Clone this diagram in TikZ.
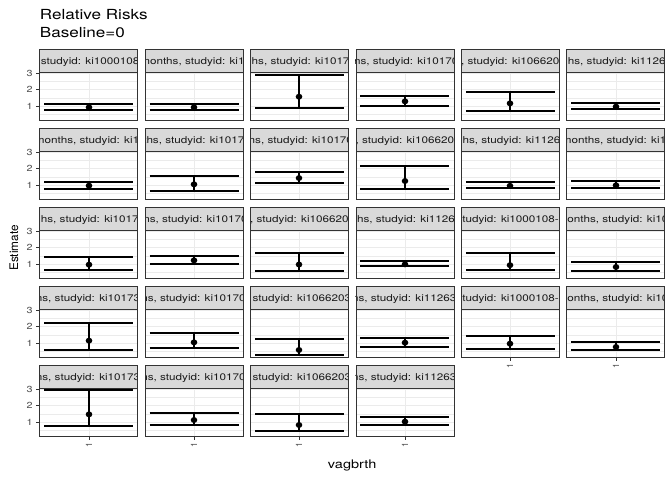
\documentclass[tikz,border=0pt]{standalone}
\usepackage{fontspec}
\setmainfont{TeX Gyre Heros}[FakeStretch=1.23]
\newfontfamily\plainfont{TeX Gyre Heros}
\definecolor{grey10}{HTML}{1A1A1A}
\definecolor{grey20}{HTML}{333333}
\definecolor{grey30}{HTML}{4D4D4D}
\definecolor{grey85}{HTML}{D9D9D9}
\definecolor{grey92}{HTML}{EBEBEB}
\tikzset{
  striptext/.style={font=\fontsize{9.5}{11}\selectfont, text=grey10, inner sep=0pt},
  axtext/.style={font=\fontsize{8.8}{10}\selectfont, text=grey30, inner sep=0pt},
  titletext/.style={font=\fontsize{13.9}{16}\selectfont, text=black, inner sep=0pt},
  frame/.style={draw=grey20, line width=0.8pt},
  majorgrid/.style={draw=grey92, line width=0.9pt},
  minorgrid/.style={draw=grey92, line width=0.45pt},
  errbar/.style={draw=black, line width=1.4pt},
  tickmark/.style={draw=grey20, line width=0.8pt}
}
\begin{document}
\begin{tikzpicture}[x=1pt,y=-1pt]
\useasboundingbox (0,0) rectangle (672,480);
\fill[white] (0,0) rectangle (672,480);
\node[titletext, anchor=base west] (title1) at (39.7,19.3) {Relative Risks};
\node[titletext, anchor=base west] (title2) at (39.7,37.3) {Baseline=0};
\foreach \c/\r/\lo/\es/\hi/\lab/\off in {
 0/0/0.76/0.94/1.12/{studyid: ki1000108}/1,
 1/0/0.76/0.94/1.16/{months, studyid: ki1}/-5,
 2/0/0.88/1.58/2.90/{hs, studyid: ki1017}/1,
 3/0/1.04/1.30/1.62/{ns, studyid: ki10170}/-2,
 4/0/0.74/1.18/1.86/{, studyid: ki1066203}/-0.5,
 5/0/0.84/0.98/1.22/{hs, studyid: ki11263}/1,
 0/1/0.76/0.98/1.22/{months, studyid: ki1}/-5,
 1/1/0.68/1.06/1.58/{ths, studyid: ki1017}/-2,
 2/1/1.14/1.44/1.80/{ns, studyid: ki10170}/-2,
 3/1/0.78/1.26/2.16/{, studyid: ki1066203}/-0.5,
 4/1/0.84/0.97/1.20/{hs, studyid: ki11263}/1,
 5/1/0.84/1.00/1.26/{months, studyid: ki1}/-5,
 0/2/0.66/0.98/1.46/{hs, studyid: ki10170}/1,
 1/2/1.00/1.24/1.50/{ns, studyid: ki10170}/-2,
 2/2/0.60/0.99/1.68/{, studyid: ki1066203}/-0.5,
 3/2/0.90/1.00/1.20/{hs, studyid: ki11263}/1,
 4/2/0.66/0.95/1.68/{studyid: ki1000108-}/-5,
 5/2/0.60/0.84/1.14/{onths, studyid: ki10}/0.5,
 0/3/0.60/1.16/2.21/{ns, studyid: ki10173}/-4,
 1/3/0.72/1.06/1.60/{ns, studyid: ki10170}/-4,
 2/3/0.30/0.60/1.26/{studyid: ki1066203}/2,
 3/3/0.80/1.04/1.30/{ns, studyid: ki11263}/-4,
 4/3/0.66/0.98/1.44/{studyid: ki1000108-}/-5,
 5/3/0.60/0.78/1.08/{onths, studyid: ki10}/0.5,
 0/4/0.76/1.48/2.93/{ns, studyid: ki10173}/-4,
 1/4/0.86/1.14/1.54/{ns, studyid: ki10170}/-4,
 2/4/0.48/0.84/1.50/{studyid: ki1066203}/2,
 3/4/0.82/1.04/1.32/{ns, studyid: ki11263}/-4}{
  \pgfmathsetmacro\L{39.7+105.4*\c}
  \pgfmathsetmacro\R{\L+98}
  \pgfmathsetmacro\M{round(\L+49)}
  \pgfmathsetmacro\T{49.3+79*\r}
  \pgfmathsetmacro\S{\T+23.5}
  \pgfmathsetmacro\B{\T+71.5}
  \pgfmathsetmacro\ylo{round(\S+(3.02-\lo)*16.6)}
  \pgfmathsetmacro\yes{\S+(3.02-\es)*16.6}
  \pgfmathsetmacro\yhi{round(\S+(3.02-\hi)*16.6)}
  \fill[grey85] (\L,\T) rectangle (\R,\S);
  \begin{scope}
    \clip (\L,\T) rectangle (\R,\S);
    \node[striptext, anchor=base west] (lab-\r-\c) at ({\L+\off},{\T+15.4}) {\lab};
  \end{scope}
  \draw[frame] (\L,\T) rectangle (\R,\S);
  \fill[white] (\L,\S) rectangle (\R,\B);
  \begin{scope}
    \clip (\L,\S) rectangle (\R,\B);
    \foreach \v in {0.5,1.5,2.5}{
      \draw[minorgrid] (\L,{\S+(3.02-\v)*16.6}) -- (\R,{\S+(3.02-\v)*16.6});
    }
    \foreach \v in {1,2,3}{
      \draw[majorgrid] (\L,{\S+(3.02-\v)*16.6}) -- (\R,{\S+(3.02-\v)*16.6});
    }
    \draw[majorgrid] (\M,\S) -- (\M,\B);
    \draw[errbar] ({\L+4.5},\yhi) -- ({\R-4.5},\yhi);
    \draw[errbar] ({\L+4.5},\ylo) -- ({\R-4.5},\ylo);
    \draw[errbar] (\M,\yhi) -- (\M,\ylo);
    \fill[black] (\M,\yes) ellipse [x radius=3.3pt, y radius=3pt];
  \end{scope}
  \draw[frame] (\L,\S) rectangle (\R,\B);
}
% y axes
\foreach \r in {0,...,4}{
  \pgfmathsetmacro\S{49.3+79*\r+23.5}
  \foreach \v in {1,2,3}{
    \draw[tickmark] (36,{\S+(3.02-\v)*16.6}) -- (39.7,{\S+(3.02-\v)*16.6});
    \node[axtext, anchor=east] (yl-\r-\v) at (32.8,{\S+(3.02-\v)*16.6}) {\v};
  }
}
% x axes
\foreach \c/\r in {0/4,1/4,2/4,3/4,4/3,5/3}{
  \pgfmathsetmacro\M{round(39.7+105.4*\c+49)}
  \pgfmathsetmacro\B{49.3+79*\r+71.5}
  \draw[tickmark] (\M,\B) -- (\M,{\B+3.2});
  \node[axtext, font=\plainfont\fontsize{8.8}{10}\selectfont, rotate=90, anchor=east] (xl-\c-\r) at (\M,{\B+5.8}) {1};
}
\node[font=\plainfont\fontsize{11.8}{14}\selectfont, rotate=90, anchor=south, inner sep=0pt] (ytitle) at (18.5,248) {Estimate};
\node[font=\fontsize{11.8}{14}\selectfont, anchor=base, inner sep=0pt] (xtitle) at (352.2,468.3) {vagbrth};
\end{tikzpicture}
\end{document}
